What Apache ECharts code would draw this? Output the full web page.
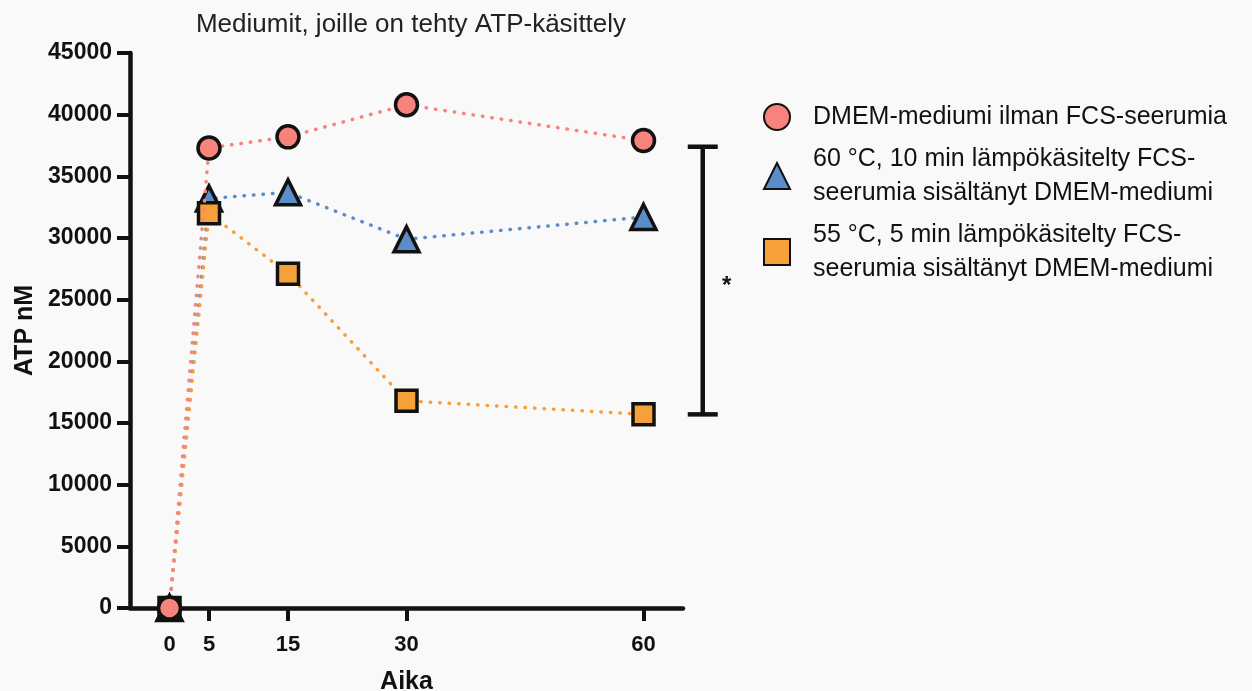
<!DOCTYPE html>
<html>
<head>
<meta charset="utf-8">
<script src="https://cdn.jsdelivr.net/npm/echarts@6/dist/echarts.min.js"></script>
<style>
  html, body { margin: 0; padding: 0; background: #f9f9f9; }
  #chart { width: 1252px; height: 691px; }
</style>
</head>
<body>
<div id="chart"></div>
<script>
// aika (min)
var xValues = [0, 5, 15, 30, 60];
// ATP nM
var dmem = [0, 37300, 38200, 40800, 37900];
var heat60 = [0, 33200, 33700, 29900, 31700];
var heat55 = [0, 32000, 27100, 16800, 15700];
// merkitsevyys: x, alaraja, yläraja
var sigBar = [67.5, 15700, 37400];

var names = [
  'DMEM-mediumi ilman FCS-seerumia',
  '60 °C, 10 min lämpökäsitelty FCS-\nseerumia sisältänyt DMEM-mediumi',
  '55 °C, 5 min lämpökäsitelty FCS-\nseerumia sisältänyt DMEM-mediumi'
];

var FONT = 'Liberation Sans, Arial, Helvetica, sans-serif';

function pairs(ys) {
  return xValues.map(function (x, i) { return [x, ys[i]]; });
}

function lineSeries(name, ys, color, symbol, size, z) {
  return {
    name: name,
    type: 'line',
    data: pairs(ys),
    symbol: symbol,
    symbolSize: size,
    z: z,
    lineStyle: { color: color, width: 3.5, type: [0.5, 9], cap: 'round' },
    itemStyle: { color: color, borderColor: '#111', borderWidth: 3.5 },
    emphasis: { disabled: true }
  };
}

var myChart = echarts.init(document.getElementById('chart'));

var option = {
  backgroundColor: '#f9f9f9',
  animation: false,
  title: {
    text: 'Mediumit, joille on tehty ATP-käsittely',
    left: 406,
    textAlign: 'center',
    top: 7,
    textStyle: { fontFamily: FONT, fontSize: 26, fontWeight: 'normal', color: '#222' }
  },
  legend: {
    orient: 'vertical',
    left: 758,
    top: 95,
    itemWidth: 26,
    itemHeight: 26,
    itemGap: 8,
    selectedMode: false,
    data: [
      { name: names[0], icon: 'circle' },
      { name: names[1], icon: 'triangle' },
      { name: names[2], icon: 'rect' }
    ],
    textStyle: { fontFamily: FONT, fontSize: 25, lineHeight: 34, color: '#111', padding: [0, 0, 0, 18] }
  },
  grid: { left: 130, right: 569, top: 53, bottom: 83, containLabel: false, outerBoundsMode: 'none' },
  xAxis: {
    type: 'value',
    min: -5,
    max: 65,
    name: 'Aika',
    nameLocation: 'middle',
    nameGap: 62,
    nameTextStyle: { fontFamily: FONT, fontSize: 25, fontWeight: 'bold', color: '#111' },
    splitLine: { show: false },
    axisLine: { show: true, onZero: false, lineStyle: { color: '#111', width: 4.5 } },
    axisTick: { show: true, length: 13, lineStyle: { color: '#111', width: 4 }, customValues: xValues },
    axisLabel: { fontFamily: FONT, fontSize: 22, fontWeight: 'bold', color: '#111', margin: 26, customValues: xValues }
  },
  yAxis: {
    type: 'value',
    min: 0,
    max: 45000,
    interval: 5000,
    name: 'ATP nM',
    nameLocation: 'middle',
    nameGap: 92,
    nameTextStyle: { fontFamily: FONT, fontSize: 25, fontWeight: 'bold', color: '#111' },
    splitLine: { show: false },
    axisLine: { show: true, onZero: false, lineStyle: { color: '#111', width: 4.5 } },
    axisTick: { show: true, length: 13, lineStyle: { color: '#111', width: 4 } },
    axisLabel: {
      fontFamily: FONT, fontSize: 23, fontWeight: 'bold', color: '#111', margin: 18,
      formatter: function (v) { return String(v); }
    }
  },
  series: [
    lineSeries(names[1], heat60, '#5b8dc8', 'triangle', 25, 2),
    lineSeries(names[2], heat55, '#f6a03a', 'rect', 21, 3),
    lineSeries(names[0], dmem, '#f7837d', 'circle', 22, 4),
    {
      type: 'custom',
      clip: false,
      silent: true,
      data: [sigBar],
      renderItem: function (params, api) {
        var lo = api.coord([api.value(0), api.value(1)]);
        var hi = api.coord([api.value(0), api.value(2)]);
        var st = { stroke: '#111', lineWidth: 4.5 };
        return {
          type: 'group',
          children: [
            { type: 'line', shape: { x1: lo[0], y1: lo[1], x2: hi[0], y2: hi[1] }, style: st },
            { type: 'line', shape: { x1: lo[0] - 15, y1: lo[1], x2: lo[0] + 15, y2: lo[1] }, style: st },
            { type: 'line', shape: { x1: hi[0] - 15, y1: hi[1], x2: hi[0] + 15, y2: hi[1] }, style: st },
            {
              type: 'text',
              style: {
                text: '*', x: lo[0] + 24, y: (lo[1] + hi[1]) / 2 + 6,
                font: 'bold 24px ' + FONT, fill: '#111',
                align: 'center', verticalAlign: 'middle'
              }
            }
          ]
        };
      }
    }
  ]
};

myChart.setOption(option);
</script>
</body>
</html>
